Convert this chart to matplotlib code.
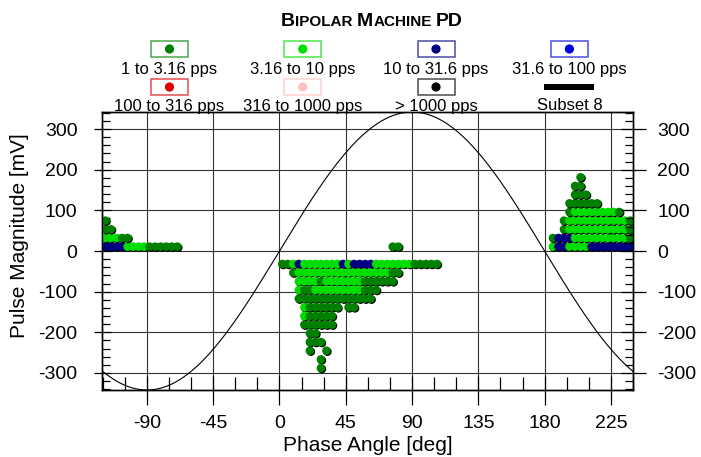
import matplotlib
matplotlib.use("Agg")
import matplotlib.pyplot as plt
import matplotlib.patheffects as pe
from matplotlib.patches import Rectangle
from matplotlib.ticker import MultipleLocator
import numpy as np

plt.rcParams['font.family'] = ['Liberation Sans', 'DejaVu Sans']
plt.rcParams['axes.unicode_minus'] = False

# ---------------- data ----------------
title_text = "Bipolar Machine PD"
x_label = "Phase Angle [deg]"
y_label = "Pulse Magnitude [mV]"

rate_labels = ["1 to 3.16 pps", "3.16 to 10 pps", "10 to 31.6 pps", "31.6 to 100 pps",
               "100 to 316 pps", "316 to 1000 pps", "> 1000 pps"]
rate_colors = ["#008000", "#00dd00", "#000080", "#0000dd", "#dd0000", "#ffc0c0", "#000000"]
rate_codes = ["D", "L", "N", "B", "R", "P", "K"]
subset_label = "Subset 8"

phase_bin_deg = 3.75          # width of one phase bin
reference_amplitude = 342     # mV, AC reference sine

# PD pattern rows: magnitude (mV), first phase bin index, one code per bin ('.' = empty)
row_magnitudes = [-32.0, -53.3, -74.7, -96.0, -117.3, -138.7, -160.0, -181.3,
                  -202.7, -224.0, -245.3, -266.7, -288.0,
                  10.7,
                  10.7, 32.0, 53.3, 74.7,
                  10.7, 32.0, 53.3, 74.7, 96.0, 117.3, 138.7, 160.0, 181.3]
row_first_bins = [0, 2, 3, 3, 3, 4, 4, 4,
                  5, 5, 5, 7, 7,
                  20,
                  -32, -32, -32, -32,
                  49, 49, 51, 51, 52, 52, 53, 53, 54]
row_codes = ["DDLNLLLLLLLNLNNNNLLLLLLLDDDDD",
             "DLLLLLLLLLLLLLLLLLDD",
             "LLLLDLLLLLLLDDDDDD",
             "LDDLLLLLLLLLDDD",
             "DDDDDDDDDDDDDD",
             "LDDDDDD.DD",
             "LDDDDD",
             "DDDDDD",
             "DD",
             "DDD",
             "D..D",
             "D",
             "D",
             "DD",
             "NNNNLLLLDDDDDD",
             "LLLDD",
             "DD",
             "D",
             "LNNLLLLNNNNNNNN",
             "DNNNLLLLLLLLLLD",
             "DLLLLLLLLLLLD",
             "DLLLLLLLLLLLD",
             "DLLLLLLLLD",
             "DDDDDD",
             "DDD",
             "DD",
             "D"]

# ---------------- figure ----------------
W, H, DPI = 701, 457, 100
fig = plt.figure(figsize=(W / DPI, H / DPI), dpi=DPI)

# axes box in pixels
L_px, R_px, T_px, B_px = 102, 633, 112, 390
ax = fig.add_axes([L_px / W, 1 - B_px / H, (R_px - L_px) / W, (B_px - T_px) / H])
ax.set_xlim(-120.5, 240)
ax.set_ylim(-342, 342)

ax.set_axisbelow(True)
ax.grid(True, which='major', color='#333333', lw=0.8)
for s in ax.spines.values():
    s.set_linewidth(1.0)

ax.xaxis.set_major_locator(MultipleLocator(45))
ax.xaxis.set_minor_locator(MultipleLocator(15))
ax.yaxis.set_major_locator(MultipleLocator(100))
ax.yaxis.set_minor_locator(MultipleLocator(20))

px = 0.72  # points per pixel
ax.tick_params(axis='x', which='major', direction='inout', length=29 * px, width=0.9,
               labelsize=14, pad=10 * px, top=False)
ax.tick_params(axis='x', which='minor', direction='in', length=13 * px, width=0.9, top=False)
ax.tick_params(axis='y', which='major', direction='inout', length=17 * px, width=0.9,
               labelsize=14, pad=16 * px, right=False)
ax.tick_params(axis='y', which='minor', direction='in', length=8 * px, width=0.9, right=False)

ax2 = ax.twinx()
ax2.set_ylim(ax.get_ylim())
ax2.yaxis.set_major_locator(MultipleLocator(100))
ax2.yaxis.set_minor_locator(MultipleLocator(20))
ax2.tick_params(axis='y', which='major', direction='inout', length=25 * px, width=0.9,
                labelsize=14, pad=12 * px)
ax2.tick_params(axis='y', which='minor', direction='in', length=8 * px, width=0.9)
for s in ax2.spines.values():
    s.set_linewidth(1.0)

# reference sine
ph = np.linspace(-120.5, 240, 721)
ax.plot(ph, reference_amplitude * np.sin(np.radians(ph)), color='black', lw=0.8, zorder=2)

# PD dots
code_color = dict(zip(rate_codes, rate_colors))
shadow = [pe.SimplePatchShadow(offset=(0.7, -0.7), shadow_rgbFace='black', alpha=1.0), pe.Normal()]
for mag, k0, codes in zip(row_magnitudes, row_first_bins, row_codes):
    for i, c in enumerate(codes):
        if c == '.':
            continue
        phase = (k0 + i + 0.5) * phase_bin_deg
        ax.scatter([phase], [mag], s=38, c=code_color[c], edgecolors='none',
                   path_effects=shadow, zorder=3)

ax.set_xlabel(x_label, fontsize=15)
ax.xaxis.set_label_coords(0.5, (B_px - 436) / (B_px - T_px))
ax.xaxis.label.set_va('top')

# ---------------- overlay (legend, title, y label) ----------------
ov = fig.add_axes([0, 0, 1, 1], facecolor='none')
ov.set_xlim(0, W)
ov.set_ylim(H, 0)
ov.axis('off')

ov.text(20, 236, y_label, fontsize=15, rotation=90, ha='center', va='center')

col_x = [169.5, 302.7, 436.0, 569.4]
box_y = [49.0, 87.0]
text_base = [74.0, 110.5]
box_w, box_h = 37, 16
for idx, (lab, col) in enumerate(zip(rate_labels, rate_colors)):
    r, cidx = divmod(idx, 4)
    cx, cy = col_x[cidx], box_y[r]
    ov.add_patch(Rectangle((cx - box_w / 2, cy - box_h / 2), box_w, box_h, fill=False,
                           edgecolor=col, alpha=0.7, lw=1.1))
    ov.scatter([cx], [cy], s=44, c=col, edgecolors='none')
    ov.text(cx, text_base[r], lab, fontsize=12, ha='center', va='baseline')
# subset line
ov.plot([col_x[3] - 25, col_x[3] + 25], [box_y[1], box_y[1]], color='black', lw=6 * px,
        solid_capstyle='butt')
ov.text(col_x[3], text_base[1], subset_label, fontsize=12, ha='center', va='baseline')

# small-caps title
renderer = fig.canvas.get_renderer()
big, small = 14, 11
pieces = []
word = title_text.split(' ')
for wi, w in enumerate(word):
    j = 0
    while j < len(w):
        up = w[j].isupper()
        k = j
        while k < len(w) and w[k].isupper() == up:
            k += 1
        pieces.append((w[j:k].upper(), big if up else small))
        j = k
    if wi < len(word) - 1:
        pieces.append((None, small))
texts, widths = [], []
for s, size in pieces:
    if s is None:
        texts.append(None)
        widths.append(0.3 * size / px)
        continue
    t = ov.text(0, 26, s, fontsize=size, fontweight='bold', ha='left', va='baseline')
    texts.append(t)
    widths.append(t.get_window_extent(renderer).width)
x0 = 372 - sum(widths) / 2
for t, wdt in zip(texts, widths):
    if t is not None:
        t.set_x(x0)
    x0 += wdt

fig.savefig("out.png", dpi=DPI)
